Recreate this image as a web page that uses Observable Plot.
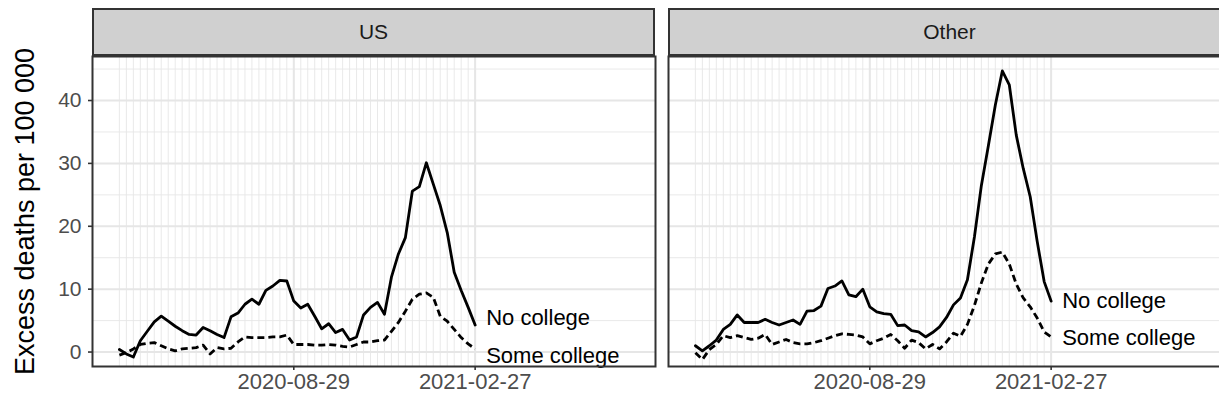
<!DOCTYPE html>
<html>
<head>
<meta charset="utf-8">
<script src="https://cdn.jsdelivr.net/npm/d3@7"></script>
<script src="https://cdn.jsdelivr.net/npm/@observablehq/plot@0.6"></script>
<style>
  html, body { margin: 0; padding: 0; background: #fff; overflow: hidden; }
  #fig { position: relative; width: 1240px; height: 412px; font-family: "Liberation Sans", Arial, sans-serif; }
  .panel { position: absolute; top: 0; }
  .strip {
    position: absolute; top: 8px; height: 48px; box-sizing: border-box;
    background: #d0d0d0; border: 2px solid #333;
    display: flex; align-items: center; justify-content: center;
    font-size: 21px; color: #1a1a1a;
  }
  g[aria-label="x-axis tick label"], g[aria-label="y-axis tick label"] { fill: #4d4d4d; }
  g[aria-label="y-axis label"] { fill: #000; font-size: 27px; }
</style>
</head>
<body>
<div id="fig"></div>
<script>
// Weekly observation dates (week ending)
const weeks = [
  "2020-03-07","2020-03-14","2020-03-21","2020-03-28","2020-04-04","2020-04-11","2020-04-18","2020-04-25",
  "2020-05-02","2020-05-09","2020-05-16","2020-05-23","2020-05-30","2020-06-06","2020-06-13","2020-06-20",
  "2020-06-27","2020-07-04","2020-07-11","2020-07-18","2020-07-25","2020-08-01","2020-08-08","2020-08-15",
  "2020-08-22","2020-08-29","2020-09-05","2020-09-12","2020-09-19","2020-09-26","2020-10-03","2020-10-10",
  "2020-10-17","2020-10-24","2020-10-31","2020-11-07","2020-11-14","2020-11-21","2020-11-28","2020-12-05",
  "2020-12-12","2020-12-19","2020-12-26","2021-01-02","2021-01-09","2021-01-16","2021-01-23","2021-01-30",
  "2021-02-06","2021-02-13","2021-02-20","2021-02-27"
];

const regions = ["US", "Other"];
const groups = ["No college", "Some college"];

// Excess deaths per 100 000, by week
const usNoCollege = [0.4, -0.3, -0.8, 1.8, 3.3, 4.8, 5.7, 4.9, 4.1, 3.4, 2.8, 2.7, 3.9, 3.4, 2.8, 2.3, 5.6, 6.2, 7.6, 8.4,
  7.6, 9.8, 10.5, 11.4, 11.3, 8.1, 7.0, 7.6, 5.7, 3.7, 4.5, 3.1, 3.6, 1.9, 2.4, 5.9, 7.1, 7.9, 6.0, 11.9,
  15.6, 18.2, 25.6, 26.3, 30.1, 26.7, 23.3, 19.0, 12.7, 9.8, 7.1, 4.3];
const usSomeCollege = [-0.5, -0.1, 0.5, 1.2, 1.4, 1.5, 1.0, 0.5, 0.2, 0.5, 0.6, 0.7, 1.1, -0.3, 0.7, 0.5, 0.6, 1.6, 2.4, 2.3,
  2.3, 2.3, 2.4, 2.4, 2.7, 1.2, 1.2, 1.2, 1.1, 1.1, 1.2, 1.1, 0.9, 0.8, 1.2, 1.6, 1.6, 1.8, 1.9, 3.3,
  4.7, 6.5, 8.4, 9.2, 9.4, 8.7, 5.7, 4.9, 3.6, 2.3, 1.3, 0.5];
const otherNoCollege = [1.0, 0.2, 1.0, 1.9, 3.6, 4.4, 5.9, 4.7, 4.7, 4.7, 5.2, 4.7, 4.3, 4.7, 5.1, 4.4, 6.5, 6.6, 7.3, 10.1,
  10.5, 11.3, 9.1, 8.8, 10.0, 7.2, 6.4, 6.1, 6.0, 4.2, 4.3, 3.4, 3.2, 2.4, 3.1, 4.0, 5.5, 7.5, 8.6, 11.5,
  18.3, 26.5, 32.8, 39.3, 44.7, 42.5, 34.5, 29.2, 24.7, 17.6, 11.2, 8.1];
const otherSomeCollege = [-0.1, -1.2, 0.4, 1.2, 2.6, 2.3, 2.6, 2.3, 2.0, 2.2, 2.8, 1.2, 1.6, 2.0, 1.5, 1.3, 1.3, 1.5, 1.8, 2.2,
  2.6, 2.9, 2.8, 2.7, 2.4, 1.3, 1.8, 2.2, 2.8, 1.8, 0.6, 1.9, 1.5, 0.5, 1.2, 0.5, 1.6, 3.0, 2.5, 4.4,
  7.4, 11.0, 14.0, 15.6, 15.9, 14.0, 10.8, 8.6, 7.2, 5.4, 3.2, 2.4];

// Axis ticks
const yTicks = [0, 10, 20, 30, 40];
const yMinorTicks = [5, 15, 25, 35, 45];
const xTickLabels = ["2020-08-29", "2021-02-27"];
const xLimits = ["2020-02-09", "2021-08-27"];
const yLimits = [-2.3, 47];

const parse = d3.utcParse("%Y-%m-%d");
const weekDates = weeks.map(parse);
const xTicks = xTickLabels.map(parse);

// Keep end labels from overlapping: push them apart to a minimum gap (data units)
function spreadLabels(hi, lo, gap) {
  if (hi - lo >= gap) return [hi, lo];
  const m = (hi + lo) / 2;
  return [m + gap / 2, m - gap / 2];
}

const PANEL_W = 563;

function panel(noCol, someCol, showY) {
  const lineRows = (vals) => weekDates.map((date, i) => ({date, value: vals[i]}));
  const n = weekDates.length - 1;
  const [yNo, ySome] = spreadLabels(noCol[n], someCol[n], 5.9);
  const labels = [
    {date: weekDates[n], value: yNo, text: groups[0]},
    {date: weekDates[n], value: ySome, text: groups[1]}
  ];
  const marginLeft = showY ? 92 : 2;
  const marginRight = 6;
  const grid = {stroke: "#e6e6e6", strokeOpacity: 1};
  return Plot.plot({
    width: marginLeft + PANEL_W + marginRight,
    height: 412,
    marginLeft, marginRight,
    marginTop: 56, marginBottom: 46,
    style: {fontFamily: '"Liberation Sans", Arial, sans-serif', background: "transparent", overflow: "visible"},
    x: {type: "utc", domain: xLimits.map(parse)},
    y: {domain: yLimits, axis: showY ? undefined : null},
    marks: [
      Plot.gridY(yMinorTicks, {...grid, strokeWidth: 0.9}),
      Plot.gridX(weekDates, {...grid, strokeWidth: 0.9}),
      Plot.gridY(yTicks, {...grid, strokeWidth: 2}),
      Plot.gridX(xTicks, {...grid, strokeWidth: 2}),
      Plot.line(lineRows(noCol), {x: "date", y: "value", stroke: "black", strokeWidth: 2.8}),
      Plot.line(lineRows(someCol), {x: "date", y: "value", stroke: "black", strokeWidth: 2.8,
        strokeDasharray: "7,4", strokeLinecap: "butt"}),
      Plot.text(labels, {x: "date", y: "value", text: "text", dx: 11, textAnchor: "start",
        lineAnchor: "middle", fontSize: 22, fill: "black"}),
      Plot.frame({stroke: "#333", strokeWidth: 2}),
      Plot.axisX(xTicks, {tickFormat: d3.utcFormat("%Y-%m-%d"), tickSize: 4, tickPadding: 3,
        fontSize: 22, stroke: "#333", strokeWidth: 1.6, label: null}),
      ...(showY ? [Plot.axisY(yTicks, {tickSize: 4, tickPadding: 7, fontSize: 21, stroke: "#333", strokeWidth: 1.6,
        label: "Excess deaths per 100 000", labelAnchor: "center", labelArrow: "none", labelOffset: 78})] : [])
    ]
  });
}

const fig = document.getElementById("fig");
const panels = [
  {region: regions[0], no: usNoCollege, some: usSomeCollege, left: 0, frameLeft: 92, showY: true},
  {region: regions[1], no: otherNoCollege, some: otherSomeCollege, left: 666, frameLeft: 668, showY: false}
];
for (const p of panels) {
  const svg = panel(p.no, p.some, p.showY);
  svg.classList.add("panel");
  svg.style.left = p.left + "px";
  fig.appendChild(svg);
  const strip = document.createElement("div");
  strip.className = "strip";
  strip.style.left = p.frameLeft + "px";
  strip.style.width = PANEL_W + "px";
  strip.textContent = p.region;
  fig.appendChild(strip);
}
</script>
</body>
</html>
